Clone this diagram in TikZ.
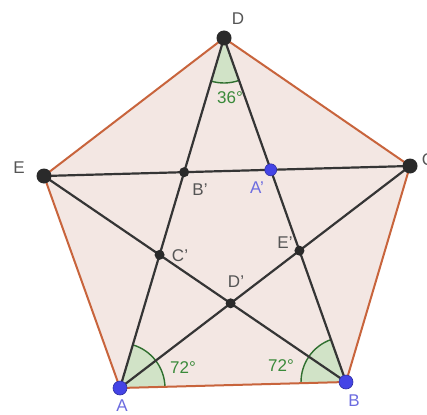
\documentclass[tikz,border=0pt]{standalone}
\usepackage{fontspec}
\setmainfont{Liberation Sans}
\usetikzlibrary{angles}
\definecolor{edgecol}{HTML}{C8643C}
\definecolor{fillcol}{HTML}{F3E7E3}
\definecolor{linecol}{HTML}{353535}
\definecolor{dotcol}{HTML}{2A2A2A}
\definecolor{bluedot}{HTML}{4444E6}
\definecolor{bluelab}{HTML}{6C6CE0}
\definecolor{greenarc}{HTML}{2F6F2F}
\definecolor{greenfill}{HTML}{C9E2C0}
\definecolor{greenlab}{HTML}{3A8A3A}
\definecolor{graylab}{HTML}{555555}
\begin{document}
\begin{tikzpicture}[x=1pt,y=1pt,
  edge/.style={draw=edgecol,line width=2pt},
  star/.style={draw=linecol,line width=2.2pt},
  vdot/.style={circle,fill=dotcol,inner sep=0pt,minimum size=15pt},
  idot/.style={circle,fill=dotcol,inner sep=0pt,minimum size=10pt},
  bdot/.style={circle,fill=bluedot,draw=bluedot!70!black,line width=0.6pt,inner sep=0pt,minimum size=14pt},
  bsdot/.style={circle,fill=bluedot,draw=bluedot!70!black,line width=0.6pt,inner sep=0pt,minimum size=12pt},
  vlab/.style={text=graylab,font=\fontsize{17}{20}\selectfont,inner sep=0pt},
  blab/.style={text=bluelab,font=\fontsize{17}{20}\selectfont,inner sep=0pt},
  glab/.style={text=greenlab,font=\fontsize{17}{20}\selectfont,inner sep=0pt},
  ang/.style={draw=greenarc,line width=1.4pt,fill=greenfill,fill opacity=0.8,angle radius=45pt}]
\useasboundingbox (0,0) rectangle (427,-414);
\fill[white] (0,0) rectangle (427,-414);
\coordinate (A) at (120,-388);
\coordinate (B) at (346,-382);
\coordinate (C) at (410,-166);
\coordinate (D) at (224,-38);
\coordinate (E) at (44,-176);
\coordinate (Ap) at (intersection of D--B and E--C);
\coordinate (Bp) at (intersection of A--D and E--C);
\coordinate (Cp) at (intersection of A--D and E--B);
\coordinate (Dp) at (intersection of E--B and A--C);
\coordinate (Ep) at (intersection of A--C and D--B);
\fill[fillcol] (A) -- (B) -- (C) -- (D) -- (E) -- cycle;
\pic[ang] {angle = B--A--D};
\pic[ang] {angle = D--B--A};
\pic[ang] {angle = A--D--B};
\draw[edge,line join=round] (A) -- (B) -- (C) -- (D) -- (E) -- cycle;
\draw[star] (A) -- (D);
\draw[star] (D) -- (B);
\draw[star] (E) -- (C);
\draw[star] (E) -- (B);
\draw[star] (A) -- (C);
\node[vdot] (nD) at (D) {};
\node[vdot] (nE) at (E) {};
\node[vdot] (nC) at (C) {};
\node[bdot] (nA) at (A) {};
\node[bdot] (nB) at (B) {};
\node[idot] (nBp) at (Bp) {};
\node[idot] (nCp) at (Cp) {};
\node[idot] (nDp) at (Dp) {};
\node[idot] (nEp) at (Ep) {};
\node[bsdot] (nAp) at (Ap) {};
\node[vlab] (lD) at (238,-19) {D};
\node[vlab] (lE) at (19,-168) {E};
\node[vlab] (lC) at (428,-160) {C};
\node[blab] (lA) at (122,-406) {A};
\node[blab] (lB) at (354,-401) {B};
\node[vlab] (lBp) at (200,-190) {B'};
\node[blab] (lAp) at (257,-188) {A'};
\node[vlab] (lCp) at (180,-256) {C'};
\node[vlab] (lEp) at (285,-243) {E'};
\node[vlab] (lDp) at (236,-282) {D'};
\node[glab] (g1) at (230,-98) {36°};
\node[glab] (g2) at (183,-368) {72°};
\node[glab] (g3) at (281,-366) {72°};
\end{tikzpicture}
\end{document}
